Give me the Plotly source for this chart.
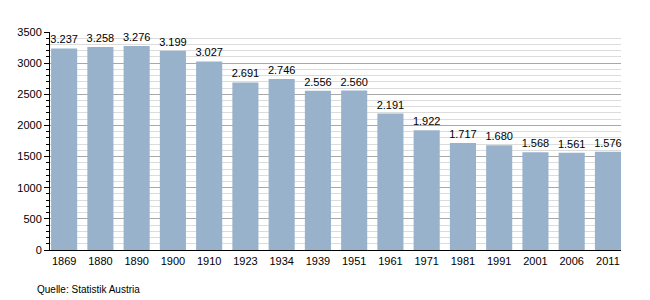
import plotly.graph_objects as go

years = ["1869", "1880", "1890", "1900", "1910", "1923", "1934", "1939", "1951",
         "1961", "1971", "1981", "1991", "2001", "2006", "2011"]
population = [3237, 3258, 3276, 3199, 3027, 2691, 2746, 2556, 2560,
              2191, 1922, 1717, 1680, 1568, 1561, 1576]
source_note = "Quelle: Statistik Austria"

fig = go.Figure()
fig.add_trace(go.Bar(
    x=years, y=population,
    marker=dict(color="#98b2cc", line=dict(width=0)),
    texttemplate="%{y:,}", textposition="outside", cliponaxis=False,
    constraintext="none",
    textfont=dict(family="Liberation Sans, Arial, sans-serif", size=11, color="#000"),
))
fig.update_layout(
    width=650, height=300,
    margin=dict(l=50, r=29, t=32, b=50),
    paper_bgcolor="white", plot_bgcolor="white",
    separators=",.",
    bargap=0.28,
    showlegend=False,
    font=dict(family="Liberation Sans, Arial, sans-serif", size=11, color="#000"),
    xaxis=dict(showline=True, linecolor="#000", linewidth=1, ticks="outside", ticklen=1,
               tickcolor="rgba(0,0,0,0)", range=[-0.39, 15.36],
               showgrid=False, tickfont=dict(size=11)),
    yaxis=dict(range=[0, 3500], dtick=500, showline=True, linecolor="#000", linewidth=1,
               ticks="outside", ticklen=5, tickcolor="#000",
               showgrid=True, gridcolor="#a8a8a8", gridwidth=1, zeroline=False,
               tickformat="d",
               minor=dict(dtick=100, showgrid=True, gridcolor="#dcdcdc", ticks="outside",
                          ticklen=3, tickcolor="#000")),
    annotations=[dict(text=source_note, xref="paper", yref="paper", x=-0.026, y=-0.145,
                      xanchor="left", yanchor="top", showarrow=False,
                      font=dict(size=10, color="#000"))],
)
fig.write_html("out.html")
